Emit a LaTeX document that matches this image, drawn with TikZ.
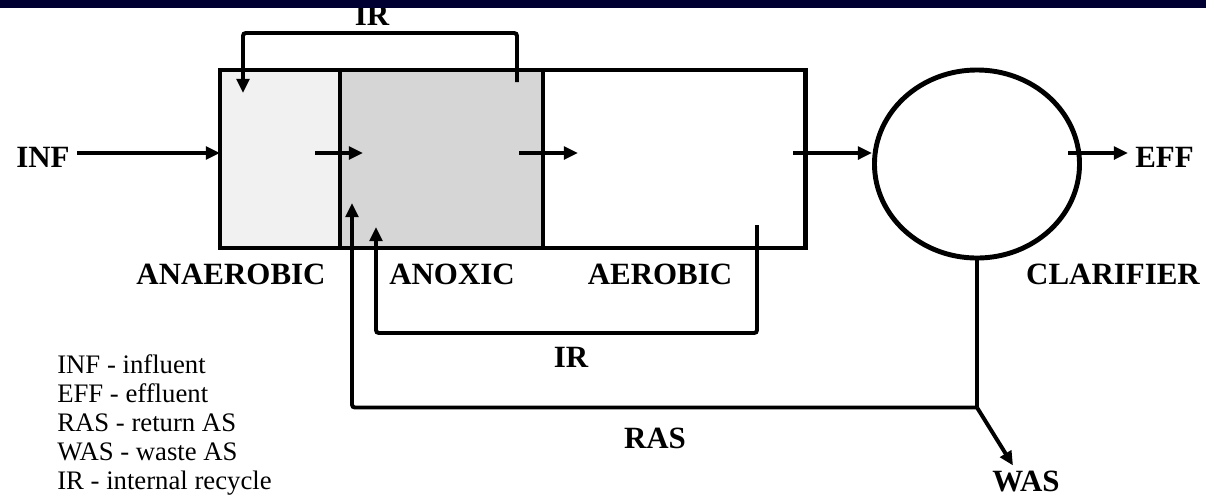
\documentclass[tikz,border=0pt]{standalone}
\usepackage{fontspec}
\setmainfont{Liberation Serif}
\usetikzlibrary{shapes.geometric, arrows.meta, positioning, calc}
\definecolor{bandnavy}{RGB}{0, 0, 50}
\definecolor{anaerfill}{RGB}{241, 241, 241}
\definecolor{anoxfill}{RGB}{214, 214, 214}
\tikzset{
  zone/.style={draw, line width=3.5pt, outer sep=0pt, inner sep=0pt, minimum height=4.45cm},
  flow/.style={line width=2.8pt, -{Triangle[length=10pt, width=9pt]}},
  pipe/.style={line width=2.8pt},
  lbl/.style={font=\fontsize{22}{26}\selectfont\bfseries, anchor=base, inner sep=0pt},
  legendtxt/.style={font=\fontsize{19}{22}\selectfont, anchor=base west, inner sep=0pt}
}

\begin{document}
\begin{tikzpicture}[x=0.025cm, y=-0.025cm]
  \useasboundingbox (0, 0) rectangle (1206, 496);

  % reactor zones and clarifier
  \node[zone, fill=anaerfill, minimum width=3cm] (anaer) at (280, 159) {};
  \node[zone, fill=anoxfill, minimum width=5.075cm] (anox) at (441.5, 159) {};
  \node[zone, minimum width=6.55cm] (aer) at (674, 159) {};
  \node[draw, ellipse, line width=3.5pt, minimum width=5.125cm, minimum height=4.7cm, inner sep=0pt] (clar) at (977, 164) {};

  \node[lbl] (anaerlbl) at (231, 284) {ANAEROBIC};
  \node[lbl] (anoxlbl) at (452, 284) {ANOXIC};
  \node[lbl] (aerlbl) at (660, 284) {AEROBIC};
  \node[lbl] (clarlbl) at (1113, 284) {CLARIFIER};

  % main flow
  \node[lbl] (inf) at (43, 167) {INF};
  \node[lbl, anchor=base west] (eff) at (1135, 167) {EFF};
  \coordinate (infout) at (77, 153);
  \coordinate (p1) at (315, 153);
  \coordinate (p2) at (519, 153);
  \coordinate (p3) at (793, 153);
  \coordinate (p4) at (1068, 153);
  \draw[flow] (infout) -- (anaer.west |- infout);
  \draw[flow] (p1) -- ++(48, 0);
  \draw[flow] (p2) -- ++(59, 0);
  \draw[flow] (p3) -- (clar.west |- p3);
  \draw[flow] (p4) -- ++(60, 0);

  % internal recycles
  \coordinate (irtop) at (517, 82);
  \coordinate (irtopin) at (243, 93);
  \draw[flow, rounded corners=2pt] (irtop) -- ++(0, -49) -| (irtopin);
  \node[lbl] (irtoplbl) at (372, 25) {IR};

  \coordinate (irbot) at (757, 225);
  \coordinate (irbotin) at (376, 227);
  \draw[flow, rounded corners=2pt] (irbot) -- ++(0, 108) -| (irbotin);
  \node[lbl] (irbotlbl) at (571, 367) {IR};

  % sludge return and waste
  \coordinate (rasin) at (352, 203);
  \draw[pipe] (clar.south) -- ++(0, 147) coordinate (split);
  \draw[flow, rounded corners=2pt] (split) -| (rasin);
  \draw[flow] (split) -- ++(36, 58) coordinate (wasend);
  \node[lbl] (raslbl) at (655, 448) {RAS};
  \node[lbl] (waslbl) at (1026, 491) {WAS};

  % legend
  \foreach \y/\txt [count=\k] in {373/INF - influent, 402/EFF - effluent, 431/RAS - return AS, 460/WAS - waste AS, 489/IR - internal recycle} {
    \node[legendtxt] (leg\k) at (57, \y) {\txt};
  }

  \fill[bandnavy] (0, 0) rectangle (1206, 8);
\end{tikzpicture}
\end{document}
